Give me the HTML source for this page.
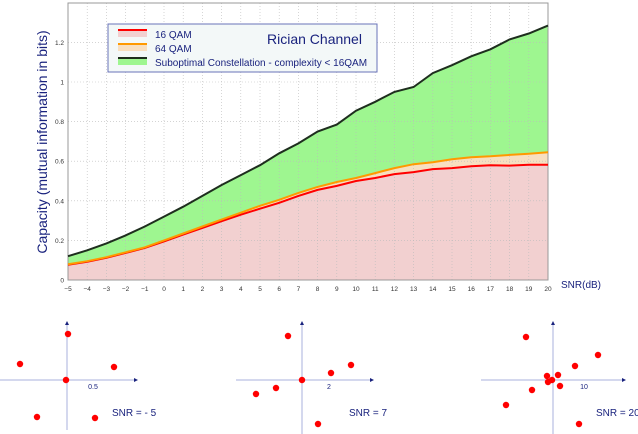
<!DOCTYPE html>
<html><head><meta charset="utf-8"><style>
html,body{margin:0;padding:0;background:#fff;width:638px;height:434px;overflow:hidden}
svg{display:block;font-family:"Liberation Sans",sans-serif}
</style></head><body>
<svg id="s" width="638" height="434" xmlns="http://www.w3.org/2000/svg">
<g id="plot"></g>
<rect x="108" y="24" width="269" height="48" fill="#f3f8f8" stroke="#6a73b8" stroke-width="1"/>
<rect x="118" y="29" width="29" height="8" fill="#f2d0d0"/><line x1="118" y1="30" x2="147" y2="30" stroke="#f00" stroke-width="2"/>
<rect x="118" y="43" width="29" height="8" fill="#f8dfc0"/><line x1="118" y1="44" x2="147" y2="44" stroke="#ff9900" stroke-width="2"/>
<rect x="118" y="57" width="29" height="8" fill="#9ef690"/><line x1="118" y1="58" x2="147" y2="58" stroke="#1e2e1e" stroke-width="2"/>
<text x="155" y="38" font-size="10" fill="#1a237e">16 QAM</text>
<text x="155" y="52" font-size="10" fill="#1a237e">64 QAM</text>
<text x="155" y="66" font-size="10" fill="#1a237e">Suboptimal Constellation - complexity &lt; 16QAM</text>
<text x="267" y="44" font-size="14" fill="#1a237e">Rician Channel</text>
<text x="0" y="0" font-size="14" fill="#1a237e" transform="translate(47,142) rotate(-90)" text-anchor="middle">Capacity (mutual information in bits)</text>
<text x="561" y="288" font-size="10" fill="#1a237e">SNR(dB)</text>
<g id="bottom"></g>
</svg>
<script>
const X0=68,X1=548,Y0=280,YT=3,S=198;
const px=v=>X0+(v+5)*(X1-X0)/25, py=v=>Y0-v*S;
const blk=[0.12,0.15,0.185,0.225,0.27,0.32,0.37,0.425,0.48,0.53,0.58,0.64,0.69,0.75,0.785,0.855,0.9,0.95,0.975,1.045,1.085,1.13,1.165,1.215,1.245,1.285];
const org=[0.08,0.095,0.115,0.14,0.165,0.2,0.235,0.27,0.305,0.34,0.375,0.405,0.44,0.47,0.495,0.515,0.54,0.565,0.585,0.595,0.61,0.62,0.625,0.632,0.638,0.645];
const red=[0.077,0.092,0.112,0.137,0.162,0.195,0.23,0.263,0.297,0.33,0.36,0.39,0.425,0.455,0.475,0.5,0.515,0.535,0.545,0.56,0.565,0.575,0.58,0.578,0.582,0.582];
let h='';
const pts=a=>a.map((v,i)=>px(i-5).toFixed(1)+','+py(v).toFixed(1)).join(' ');
const area=(a,c)=>`<polygon points="${px(-5)},${Y0} ${pts(a)} ${px(20)},${Y0}" fill="${c}"/>`;
h+=area(blk,'#9ef690')+area(org,'#f8dfc0')+area(red,'#f2d0d0');
for(let i=-5;i<=20;i++){const x=px(i);h+=`<line x1="${x}" y1="${YT}" x2="${x}" y2="${Y0}" stroke="#bbb" stroke-width="0.6" stroke-dasharray="1,2"/>`;
h+=`<text x="${x}" y="291" font-size="6.5" fill="#333" text-anchor="middle">${i<0?'\u2212'+(-i):i}</text>`;}
for(let k=0;k<=6;k++){const y=py(k*0.2);h+=`<line x1="${X0}" y1="${y}" x2="${X1}" y2="${y}" stroke="#bbb" stroke-width="0.6" stroke-dasharray="1,2"/>`;
h+=`<text x="${X0-4}" y="${y+2.5}" font-size="6.5" fill="#333" text-anchor="end">${k==0?'0':k==5?'1':(k*0.2).toFixed(1)}</text>`;}
h+=`<rect x="${X0}" y="${YT}" width="${X1-X0}" height="${Y0-YT}" fill="none" stroke="#999" stroke-width="1"/>`;
h+=`<polyline points="${pts(red)}" fill="none" stroke="#f00" stroke-width="2"/>`;
h+=`<polyline points="${pts(org)}" fill="none" stroke="#ff9900" stroke-width="2"/>`;
h+=`<polyline points="${pts(blk)}" fill="none" stroke="#1e2e1e" stroke-width="2"/>`;
document.getElementById('plot').innerHTML=h;
let b='';
function ax(x0,x1,vx,top,bot,lab,lx,snr,sx,dots){
 b+=`<line x1="${x0}" y1="380" x2="${x1}" y2="380" stroke="#aab0dd" stroke-width="1"/><polygon points="${x1},378 ${x1+4},380 ${x1},382" fill="#1a237e"/>`;
 b+=`<line x1="${vx}" y1="${top}" x2="${vx}" y2="${bot}" stroke="#aab0dd" stroke-width="1"/><polygon points="${vx-2},${top+1} ${vx},${top-3} ${vx+2},${top+1}" fill="#1a237e"/>`;
 b+=`<text x="${lx}" y="389" font-size="7" fill="#1a237e" text-anchor="middle">${lab}</text>`;
 b+=`<text x="${sx}" y="416" font-size="10" fill="#1a237e">${snr}</text>`;
 dots.forEach(d=>b+=`<circle cx="${d[0]}" cy="${d[1]}" r="3.2" fill="#f00"/>`);
}
ax(0,134,67,324,430,'0.5',93,'SNR = - 5',112,[[68,334],[20,364],[114,367],[66,380],[37,417],[95,418]]);
ax(236,370,302,324,434,'2',329,'SNR = 7',349,[[288,336],[351,365],[331,373],[302,380],[276,388],[256,394],[318,424]]);
ax(481,622,553,324,434,'10',584,'SNR = 20',596,[[526,337],[598,355],[575,366],[547,376],[558,375],[552,380],[548,382],[560,386],[532,390],[506,405],[579,424]]);
document.getElementById('bottom').innerHTML=b;
</script>
</body></html>
